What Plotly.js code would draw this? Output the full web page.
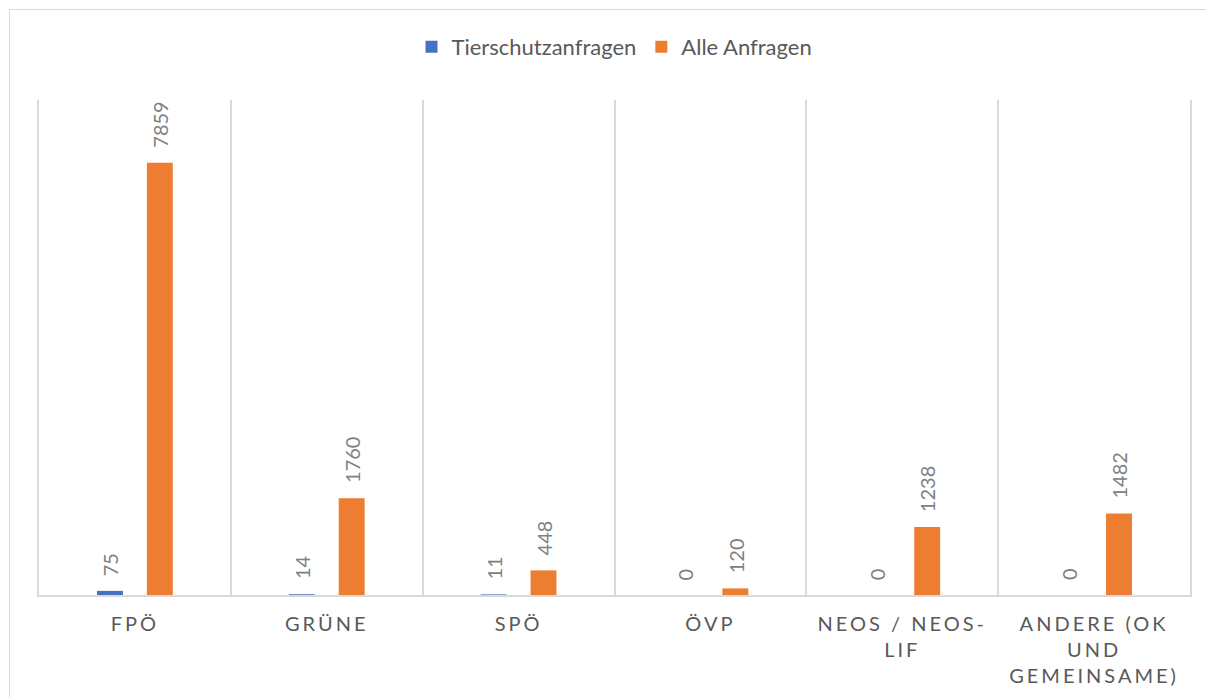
<!DOCTYPE html>
<html>
<head>
<meta charset="utf-8">
<script src="https://cdn.plot.ly/plotly-3.0.1.min.js"></script>
<style>
  html, body { margin: 0; padding: 0; background: #fff; }
  #wrap { position: relative; width: 1206px; height: 697px; overflow: hidden; }
  #chart { position: absolute; left: 0; top: 0; width: 1206px; height: 697px; }
  #frame { position: absolute; left: 9px; top: 9px; width: 1300px; height: 800px;
           border-left: 1px solid #d9d9d9; border-top: 1px solid #d9d9d9; pointer-events: none; }
  .xtick text { letter-spacing: 3px; }
</style>
</head>
<body>
<div id="wrap">
  <div id="chart"></div>
  <div id="frame"></div>
</div>
<script>
const categories = ["FPÖ", "GRÜNE", "SPÖ", "ÖVP", "NEOS / NEOS-LIF", "ANDERE (OK UND GEMEINSAME)"];
const tickLabels = ["FPÖ", "GRÜNE", "SPÖ", "ÖVP", "NEOS / NEOS-<br>LIF", "ANDERE (OK<br>UND<br>GEMEINSAME)"];
const seriesNames = ["Tierschutzanfragen", "Alle Anfragen"];
const tierschutz = [75, 14, 11, 0, 0, 0];
const alle = [7859, 1760, 448, 120, 1238, 1482];
const colors = ["#4472C4", "#ED7D31"];

const FONT = "Lato, 'Open Sans', sans-serif";

const traces = [
  { type: "bar", name: seriesNames[0], x: categories, y: tierschutz,
    marker: { color: colors[0] }, hoverinfo: "none" },
  { type: "bar", name: seriesNames[1], x: categories, y: alle,
    marker: { color: colors[1] }, hoverinfo: "none" }
];

const annotations = [];
[tierschutz, alle].forEach((vals, si) => {
  vals.forEach((v, i) => {
    annotations.push({
      xref: "x", yref: "y", x: categories[i], y: v,
      text: String(v), showarrow: false, textangle: -90,
      xanchor: "center", yanchor: "bottom",
      xshift: si === 0 ? -25 : 25, yshift: 13,
      font: { family: FONT, size: 20, color: "#808080" }
    });
  });
});

const layout = {
  width: 1206, height: 697,
  margin: { l: 39, r: 16, t: 100, b: 102, autoexpand: false },
  paper_bgcolor: "#ffffff", plot_bgcolor: "#ffffff",
  font: { family: FONT, size: 20, color: "#595959" },
  barmode: "group", bargap: 0.48, bargroupgap: 0.48,
  showlegend: true,
  legend: { orientation: "h", x: 0.5, xanchor: "center", y: 1.107, yanchor: "middle",
            font: { family: FONT, size: 22, color: "#595959" }, traceorder: "normal" },
  xaxis: {
    type: "category", tickmode: "array", tickvals: categories, ticktext: tickLabels,
    range: [-0.5, 5.5], tickangle: 0, automargin: false,
    showgrid: true, tickson: "boundaries", gridcolor: "#d9d9d9", gridwidth: 2,
    showline: true, linecolor: "#d9d9d9", linewidth: 2,
    ticks: "", ticklabelstandoff: 10,
    tickfont: { family: FONT, size: 20, color: "#595959" }, fixedrange: true
  },
  yaxis: {
    range: [0, 9000], showgrid: false, zeroline: false, showticklabels: false, ticks: "",
    showline: true, mirror: true, linecolor: "#d9d9d9", linewidth: 2, fixedrange: true,
    automargin: false
  },
  annotations: annotations
};

Plotly.newPlot("chart", traces, layout, { displayModeBar: false, staticPlot: true });
</script>
</body>
</html>
